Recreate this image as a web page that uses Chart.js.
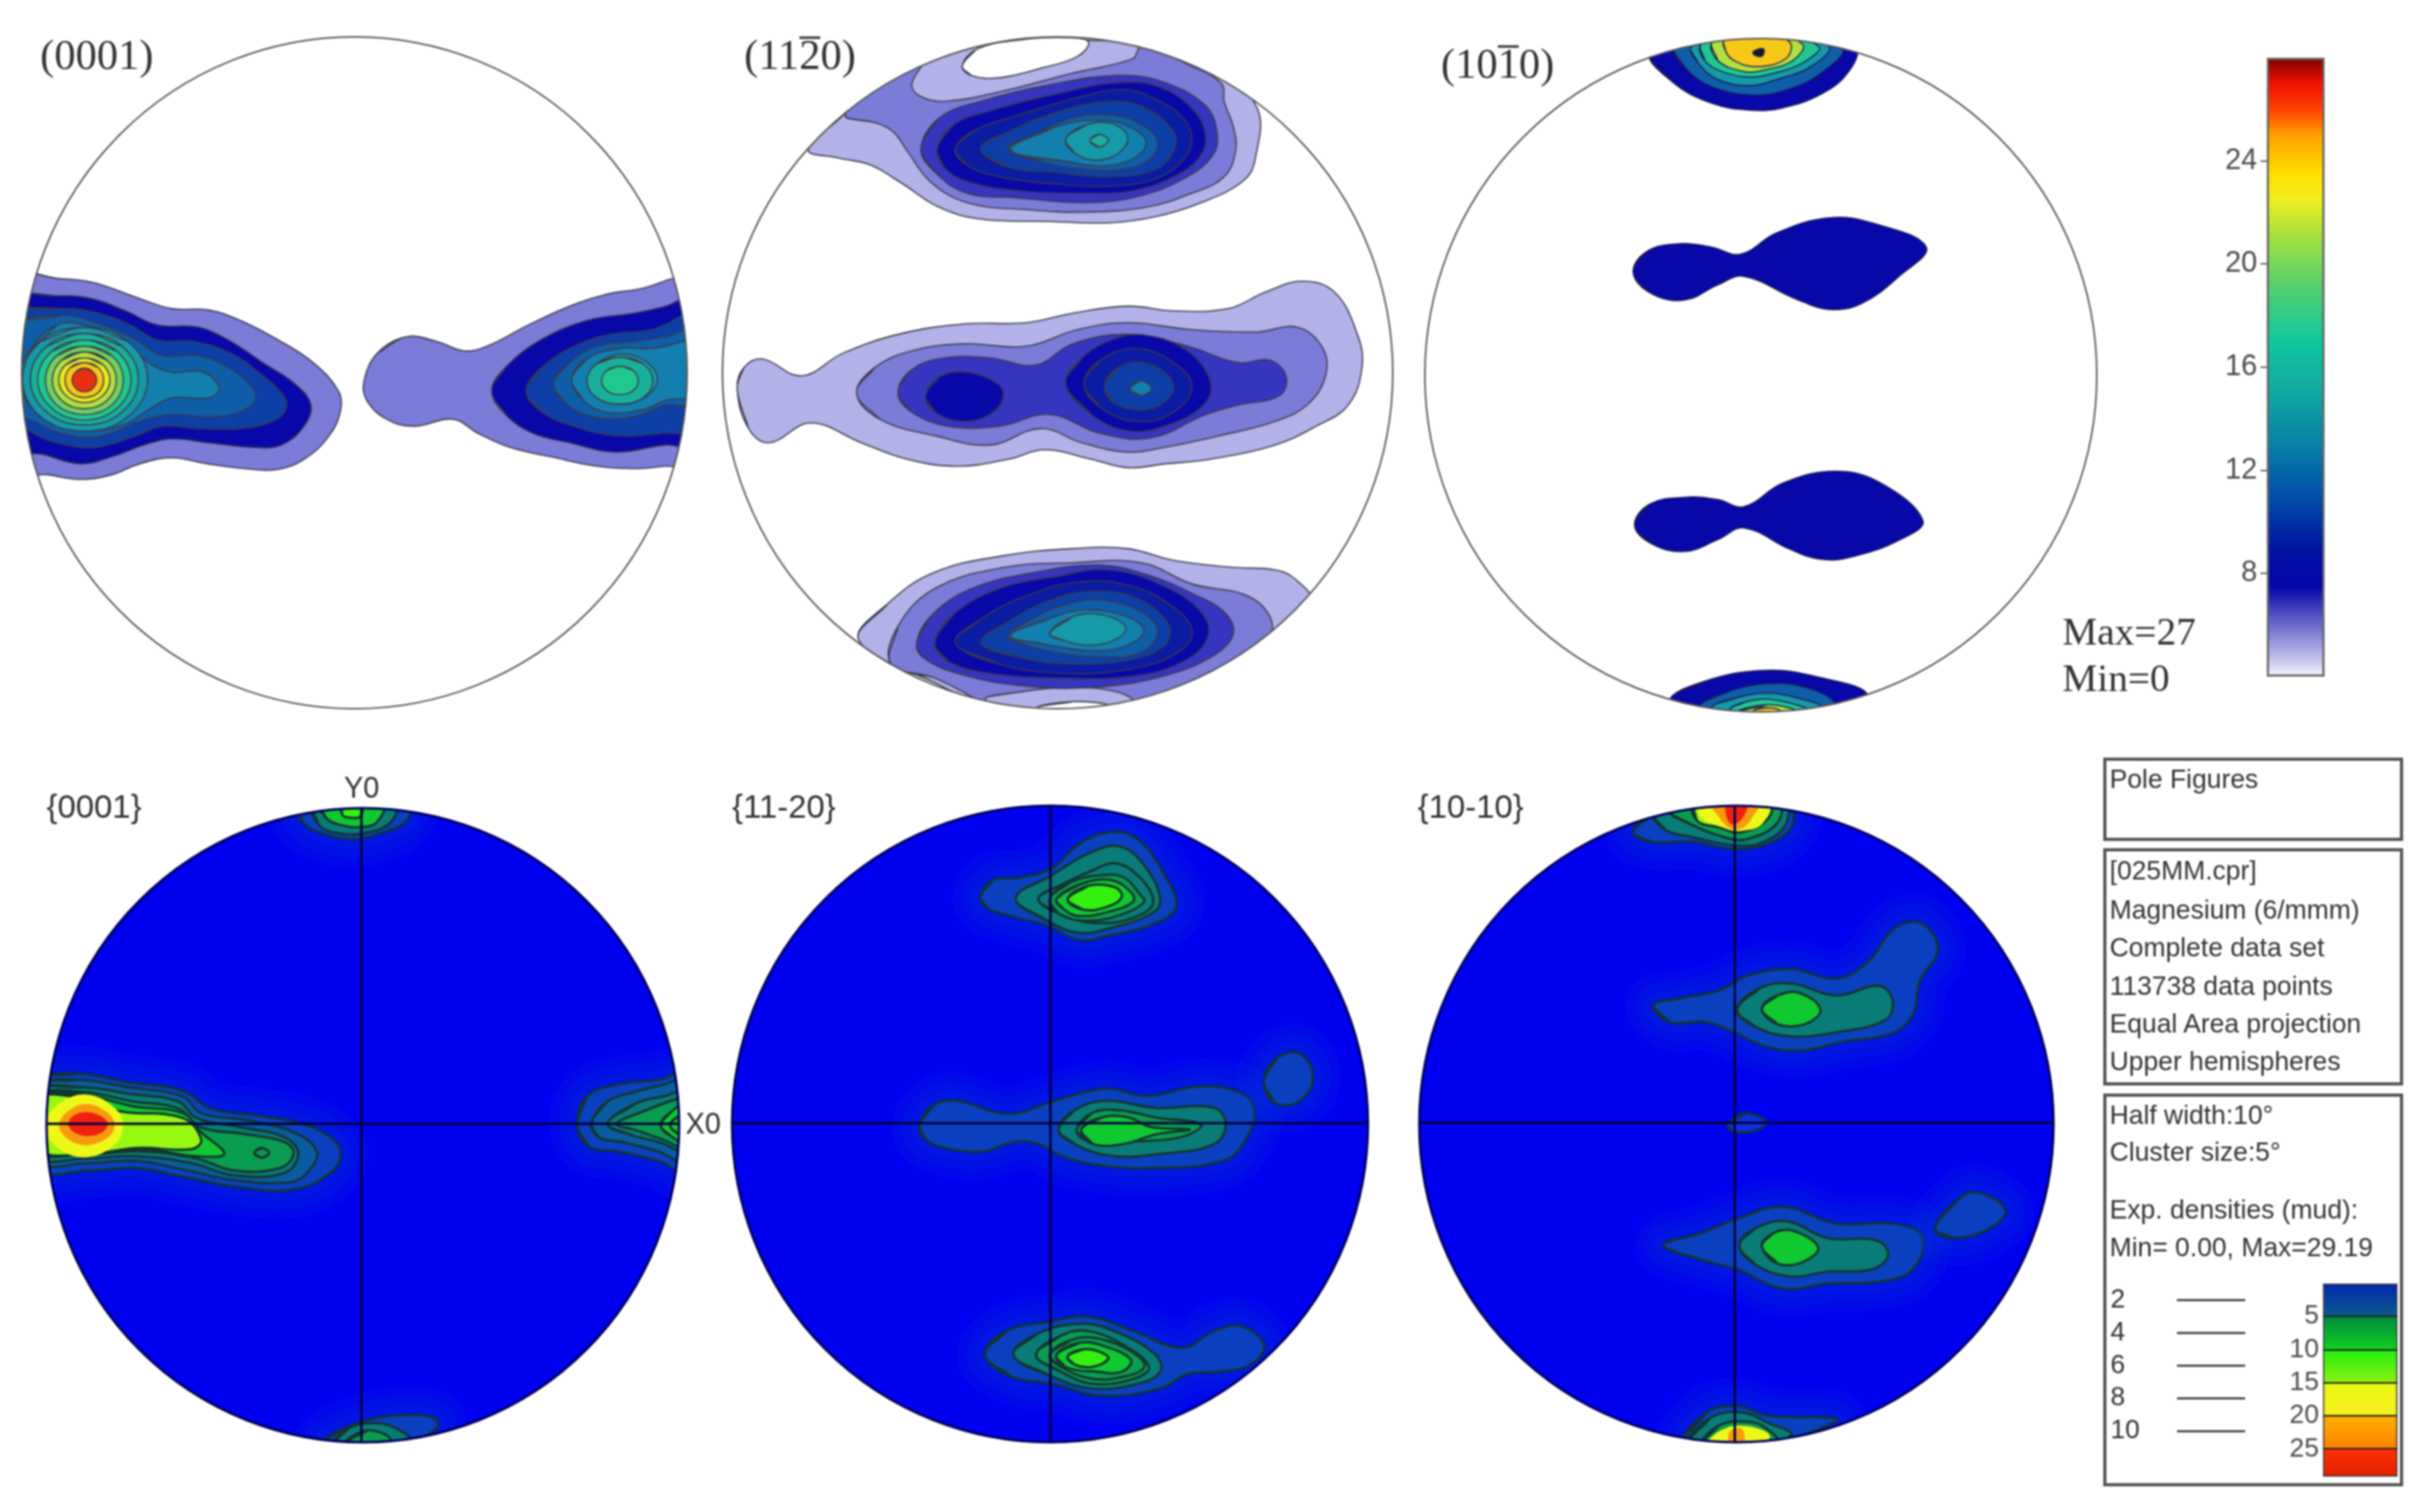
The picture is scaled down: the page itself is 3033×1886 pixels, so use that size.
<!DOCTYPE html>
<html>
<head>
<meta charset="utf-8">
<title>Pole figures</title>
<script src="https://cdn.jsdelivr.net/npm/chart.js@4"></script>
<style>
html, body { margin: 0; background: #fff; width: 3033px; height: 1886px; overflow: hidden; }
#page { position: absolute; left: 0; top: 0; width: 3033px; height: 1886px; filter: blur(1.1px); }
canvas { position: absolute; }
.t { position: absolute; white-space: pre; line-height: 1; transform: translateY(-50%); }
.serif { font-family: "Liberation Serif", serif; color: #333; }
.sans { font-family: "Liberation Sans", sans-serif; color: #333; font-size: 33px; }
.box { position: absolute; border: 4px solid #555; box-sizing: border-box; left: 2623px; width: 374px; }
.bar { display: inline-block; line-height: 0.72; border-top: 3px solid #333; }
</style>
</head>
<body>
<div id="page"></div>
<script>
// --- Data: contours, [x, y, x, y, ...] on each panel's read-off grid ---

const fig0001Levels = [2,4,6,7,8, 9,10,11,13,14,15,16,17, 2,4,6,7,8,9,10,11];
const fig0001Contours = [
  [20,590,130,592,200,600,290,630,370,655,450,658,520,680,600,720,680,770,735,830,740,870,715,925,660,975,600,997,530,995,450,985,370,972,300,985,240,1008,170,1018,100,1008,20,1000],
  [20,640,130,628,200,635,270,660,340,690,430,695,500,725,570,770,640,815,675,860,660,905,610,945,550,950,450,940,370,932,310,945,240,970,170,985,90,965,20,950],
  [20,672,130,655,210,665,280,690,340,722,420,725,500,750,560,790,615,840,620,870,590,895,520,910,430,910,350,905,280,930,200,950,120,940,60,915,20,880],
  [20,700,130,670,220,690,290,720,350,755,430,755,510,790,555,840,530,870,460,885,370,880,300,895,220,925,150,925,80,900,20,860],
  [50,760,120,690,200,695,270,725,320,770,370,790,440,790,475,825,450,845,370,845,320,870,270,900,190,915,110,900,60,860,40,810],
  [180,695,275,725,318,805,275,885,180,915,85,885,45,805,85,725],
  [180,708,262,735,298,805,262,875,180,902,98,875,62,805,98,735],
  [180,722,250,745,282,807,250,868,180,892,110,868,78,807,110,745],
  [180,735,240,755,265,807,240,860,180,880,120,860,95,807,120,755],
  [180,747,230,765,250,807,230,850,180,868,130,850,110,807,130,765],
  [180,760,220,774,236,807,220,840,180,855,140,840,124,807,140,774],
  [180,770,210,780,222,807,210,834,180,844,150,834,138,807,150,780],
  [180,782,198,789,207,807,198,825,180,832,162,825,153,807,162,789],
  [885,715,950,725,1010,745,1060,735,1150,690,1240,650,1320,625,1400,612,1470,590,1520,585,1520,985,1450,990,1380,995,1300,990,1200,970,1110,950,1040,920,985,890,900,905,840,890,800,855,790,815,820,750],
  [1070,830,1100,780,1180,720,1280,680,1380,665,1450,650,1520,630,1520,945,1450,945,1340,960,1240,940,1160,920,1100,880],
  [1145,830,1180,780,1250,735,1330,710,1420,700,1520,670,1520,905,1440,920,1340,925,1250,905,1180,875],
  [1205,815,1240,770,1300,735,1380,725,1450,715,1520,700,1520,855,1450,860,1380,885,1290,885,1230,855],
  [1245,805,1280,760,1350,740,1420,740,1520,730,1520,835,1450,850,1400,870,1320,875,1270,850],
  [1280,805,1310,765,1360,752,1410,770,1432,805,1410,840,1360,858,1305,845],
  [1350,758,1400,772,1422,808,1400,845,1350,858,1300,845,1278,808,1300,772],
  [1350,778,1378,786,1390,808,1378,830,1350,838,1322,830,1310,808,1322,786]
];

const fig1120Levels = [1,2,0,3,4,5,6,7,8,9,10, 1,2,3,4,4,5,6,8, 1,2,1,0,3,4,5,6,7,8,9];
const fig1120Contours = [
  [225,318,300,245,400,160,500,110,650,85,830,85,950,95,1100,150,1200,225,1197,340,1170,385,1080,430,980,460,880,473,750,470,600,465,510,440,430,390,360,350,290,335],
  [305,243,400,160,470,135,450,180,470,205,520,215,640,195,800,155,930,125,950,100,1060,140,1125,178,1130,215,1150,270,1155,320,1130,375,1060,410,960,440,830,450,700,445,570,430,490,385,440,320,410,280,370,260],
  [560,140,590,105,680,85,800,80,835,90,810,120,730,145,640,165,580,160],
  [470,315,510,250,600,215,750,180,900,160,1000,175,1090,225,1115,285,1105,330,1050,375,950,415,830,430,680,420,570,410,500,365],
  [505,315,540,265,620,235,760,200,900,175,990,185,1065,235,1090,290,1075,335,1020,375,930,405,820,410,680,405,570,385,520,355],
  [545,315,590,275,680,245,800,210,910,190,980,210,1040,250,1060,295,1040,340,980,380,880,395,760,390,640,375,570,350],
  [600,315,660,280,760,240,880,215,960,230,1020,280,1020,320,980,360,880,375,760,365,660,355],
  [660,315,720,285,800,250,890,245,950,265,985,300,965,340,900,360,820,358,740,345],
  [665,318,760,270,860,255,925,270,960,300,935,335,870,352,800,345],
  [785,295,830,265,885,262,920,290,900,325,850,340,805,325],
  [838,298,858,285,878,298,858,312],
  [70,825,85,780,125,762,210,798,300,750,420,710,560,688,700,685,800,665,920,650,1020,660,1140,655,1220,620,1300,597,1370,620,1420,710,1430,780,1400,860,1330,905,1240,945,1100,975,1000,985,920,993,840,975,740,955,660,975,550,990,440,975,340,940,230,898,140,940,95,910],
  [330,835,370,780,450,745,560,730,700,735,810,700,920,685,1060,700,1200,705,1290,695,1345,740,1350,800,1310,860,1240,895,1120,925,1000,950,920,960,820,940,730,910,620,945,500,925,380,890],
  [420,835,450,785,520,760,620,760,720,775,800,730,920,710,1050,735,1160,770,1230,765,1265,800,1250,840,1160,860,1090,880,970,930,860,920,750,880,640,905,530,905,450,875],
  [480,840,510,800,565,790,630,810,650,840,620,880,560,895,500,875],
  [785,815,820,760,890,720,960,712,1050,745,1100,810,1085,860,1000,905,920,915,840,880],
  [825,815,860,765,940,740,1020,770,1060,820,1020,875,940,895,860,865],
  [870,820,900,780,950,770,1000,790,1020,825,990,860,945,870,890,855],
  [925,825,948,808,972,825,948,840],
  [335,1360,400,1280,500,1215,650,1180,800,1165,920,1165,1020,1190,1150,1205,1240,1210,1285,1230,1320,1280,1230,1350,1100,1430,900,1530,700,1530,500,1450],
  [405,1410,420,1330,500,1250,650,1205,800,1195,950,1195,1060,1240,1190,1270,1235,1335,1180,1400,1050,1460,880,1530,700,1530,500,1440],
  [610,1485,680,1470,800,1460,900,1470,930,1490,800,1525,680,1515],
  [720,1505,800,1490,880,1500,800,1525],
  [460,1370,490,1310,580,1250,720,1215,860,1200,960,1220,1060,1260,1130,1300,1150,1345,1110,1390,1000,1435,840,1460,680,1455,550,1430,480,1400],
  [500,1365,540,1305,640,1250,760,1225,880,1210,1000,1245,1080,1300,1095,1350,1050,1400,940,1435,780,1440,620,1430,530,1405],
  [545,1365,600,1315,700,1265,820,1235,930,1245,1020,1290,1060,1340,1030,1385,930,1420,780,1430,640,1410],
  [600,1365,660,1320,750,1275,850,1255,950,1275,1010,1330,1000,1370,930,1400,800,1410,680,1395],
  [660,1350,720,1310,800,1280,870,1275,950,1300,985,1340,950,1385,860,1395,760,1385,700,1370],
  [665,1350,760,1310,830,1295,920,1310,955,1340,920,1370,850,1382,750,1370],
  [750,1345,800,1310,860,1305,915,1330,900,1355,840,1370,780,1360]
];

const fig1010Levels = [4,7,9,11,14,16,18, 4,4, 4,7,9,11,14,16];
const fig1010Contours = [
  [368,110,530,60,680,100,670,150,630,195,570,225,520,230,460,215,400,170],
  [405,100,530,60,660,100,630,150,580,185,525,198,460,180,420,140],
  [430,95,530,60,640,95,610,140,560,165,520,178,470,165,440,130],
  [445,90,530,60,625,95,600,130,555,152,520,160,480,150,450,125],
  [462,85,530,60,600,90,585,125,540,145,510,148,470,125],
  [480,80,530,65,580,85,575,120,530,138,495,125,482,105],
  [525,105,540,100,538,115,525,112],
  [340,575,360,530,410,513,460,520,505,535,560,490,640,458,710,470,790,520,750,580,690,640,640,652,590,630,510,582,470,600,420,632,370,620],
  [342,1110,365,1065,420,1050,470,1055,510,1070,570,1020,650,995,720,1020,785,1100,750,1140,680,1175,630,1182,580,1160,510,1115,470,1140,420,1165,370,1150],
  [395,1482,450,1440,540,1417,620,1430,700,1470,640,1530,430,1530],
  [440,1495,480,1465,545,1445,610,1455,650,1490,620,1530,460,1530],
  [460,1497,500,1475,545,1465,590,1475,630,1497,600,1530,480,1530],
  [490,1500,510,1485,545,1478,585,1488,605,1500,545,1530],
  [495,1510,545,1490,590,1505,545,1530],
  [525,1503,545,1496,565,1503,545,1520]
];

const pf0001Levels = [1,2,3,4,5,7,8,9,10,4, 1,2,3,4,5,5, 1,3,5,6, 1,3,4];
const pf0001Contours = [
  [90,670,170,652,280,670,400,688,460,725,560,740,650,755,720,785,742,820,720,860,640,895,520,890,410,870,300,850,200,855,90,850],
  [90,680,170,665,280,680,400,700,440,735,540,750,640,775,690,815,670,860,630,880,510,875,410,855,300,835,190,840,90,835],
  [90,690,180,680,290,695,390,710,430,745,530,765,620,785,650,820,620,860,510,865,420,840,300,825,190,830,90,825],
  [90,700,180,690,290,710,390,725,440,765,530,778,620,795,640,820,610,850,510,855,430,830,310,815,180,822,90,815],
  [90,700,180,695,290,720,400,735,440,775,490,820,430,825,310,810,180,820,90,812],
  [90,705,180,700,260,730,400,745,440,790,420,810,300,808,180,822,90,810],
  [190,698,250,725,268,760,250,800,190,825,130,805,105,760,130,720],
  [190,718,235,735,250,760,235,785,190,800,150,785,135,760,150,735],
  [190,735,220,742,235,758,220,775,190,780,165,772,155,758,165,742],
  [555,818,570,808,587,818,570,828],
  [1255,760,1275,700,1340,675,1430,665,1500,650,1500,860,1430,835,1340,815,1280,805],
  [1285,755,1320,710,1380,690,1440,675,1500,665,1500,840,1430,815,1350,795,1300,785],
  [1320,757,1380,715,1440,700,1500,690,1500,815,1430,795,1370,780],
  [1340,757,1400,730,1470,705,1500,700,1500,810,1440,790,1380,770],
  [1435,760,1460,730,1500,710,1500,800,1460,785],
  [1455,760,1475,740,1500,730,1500,790,1475,780],
  [650,85,890,85,880,125,820,150,770,160,710,150,660,125],
  [680,80,860,80,850,125,790,148,740,148,695,130],
  [695,80,835,80,820,125,780,135,740,130,710,115],
  [745,80,785,80,785,112,760,115,745,108],
  [700,1430,780,1385,880,1368,945,1375,950,1395,880,1435,800,1445],
  [730,1430,760,1395,820,1385,860,1395,890,1420,800,1445],
  [750,1430,800,1400,850,1420,800,1445]
];

const pf1120Levels = [1,3,3,4,5,6, 1,3,4,5, 1, 1,3,4,4,5,6];
const pf1120Contours = [
  [612,285,640,250,700,245,770,225,830,175,900,150,960,165,1020,240,1045,305,1000,340,900,365,830,375,760,345,680,325,630,310],
  [690,288,770,240,850,195,920,180,975,220,1010,290,990,320,900,350,830,360,760,335],
  [740,290,790,260,860,230,910,215,960,240,995,295,960,325,880,340,800,325],
  [765,290,810,255,880,240,930,245,965,280,975,295,930,320,850,335,785,320],
  [780,290,830,260,900,250,945,275,950,295,900,315,830,325,795,310],
  [805,290,850,262,910,265,925,285,895,305,840,312],
  [478,760,510,718,560,710,650,735,700,735,770,712,890,685,980,700,1100,680,1190,695,1218,730,1200,790,1150,835,1000,850,880,845,790,825,740,800,690,795,620,815,540,810,490,790],
  [785,770,820,730,890,710,1000,725,1130,725,1155,760,1130,800,1020,820,900,825,820,800],
  [825,770,860,735,920,730,1000,745,1100,760,1060,785,960,795,880,800,840,790],
  [835,770,880,745,940,745,990,765,1075,770,1000,780,930,800,860,800],
  [1240,670,1270,620,1320,612,1348,660,1320,710,1265,715],
  [622,1240,670,1190,770,1170,850,1160,950,1190,1060,1225,1130,1190,1190,1180,1240,1220,1210,1260,1140,1275,1070,1280,1010,1310,880,1325,770,1300,680,1285],
  [685,1240,740,1195,840,1175,920,1195,1000,1240,1010,1275,960,1300,860,1310,770,1285],
  [735,1240,790,1200,850,1190,930,1220,985,1265,950,1290,860,1300,790,1275],
  [765,1240,810,1210,870,1205,950,1235,975,1265,930,1285,860,1290,790,1265],
  [780,1240,830,1215,880,1220,945,1250,925,1275,870,1275,800,1265],
  [805,1243,840,1228,880,1235,895,1248,860,1265,820,1260]
];

const pf1010Levels = [1,3,4,7,8,9,10, 1,3,5, 0, 1,3,5, 1, 1,3,4,8,9];
const pf1010Contours = [
  [530,150,570,115,700,80,860,80,885,125,850,165,760,185,660,170,570,170],
  [575,110,700,80,860,80,870,130,820,170,760,178,660,160,600,145],
  [610,105,700,80,850,80,850,130,780,165,730,160,660,135],
  [665,80,830,80,830,120,770,150,720,140,670,125],
  [680,80,825,80,815,130,765,145,720,135,680,115],
  [700,80,810,80,790,120,770,140,745,140,720,115],
  [740,80,780,80,770,120,745,130],
  [575,510,640,495,720,480,780,450,880,435,980,455,1050,420,1110,350,1170,340,1205,395,1165,460,1150,530,1100,570,1000,585,900,605,820,595,750,565,690,545,610,545],
  [760,520,810,475,880,465,980,490,1075,470,1105,500,1090,540,990,565,880,575,800,555],
  [815,518,850,490,900,485,945,520,910,550,850,550],
  [740,757,780,735,825,755,785,775,745,770],
  [597,1010,680,985,760,955,860,930,980,965,1100,965,1170,990,1150,1060,1080,1085,960,1090,860,1100,760,1060,680,1040],
  [765,1010,800,975,870,960,960,995,1070,1000,1095,1030,1060,1060,960,1065,880,1075,800,1050],
  [815,1012,840,985,885,980,940,1015,905,1045,850,1048],
  [1200,975,1250,915,1290,900,1355,935,1320,975,1240,995],
  [640,1430,690,1360,760,1345,830,1365,980,1372,920,1400,800,1445],
  [650,1430,700,1370,770,1358,830,1380,880,1405,770,1445],
  [680,1430,720,1385,790,1378,830,1395,850,1420,770,1445],
  [695,1430,730,1395,790,1390,830,1410,770,1445],
  [745,1400,770,1395,770,1435,750,1435]
];

const pf0001Cross = [787, 757];
const pf1120Cross = [767, 757];
const pf1010Cross = [755, 755];

const cbarTicks = [8, 12, 16, 20, 24];
const cbarRange = [4, 28];
const cbarStops = [4, 4.6, 5.5, 6.5, 7.5, 9, 11, 13, 15, 17, 19, 21, 22.5, 23.5, 25, 26, 27, 28];
const cbarColors = ['#f8f8ff','#c8c8ec','#8c8cd8','#4a4ac0','#0404a8','#0014a0','#0050a8','#0a80a8','#10a8a0','#10c8a0','#50d070','#a0e040','#f0f020','#ffe000','#ffa000','#ff4000','#f01000','#7a0000'];

const legendTicks = [5, 10, 15, 20, 25];
const legendRange = [0, 29.19];
const legendStops = [0, 5, 5, 10, 10, 15, 15, 20, 20, 25, 25, 29.19];
const legendColors = ['#0028b0','#0a5a88','#008a40','#10d020','#20f010','#90f010','#e8f810','#f8f020','#ffb000','#ff8000','#ff3000','#e02000'];
const contourLevels = [2, 4, 6, 8, 10];

// --- Styles and layout ---
const TOP_COLORS = ['#ffffff','#b2b2e8','#7b7bd8','#3535c0','#0808a8','#0a1ca2','#0c3ea6','#0f5ea8','#127fae','#169aa8','#18b09a','#20c890','#40cc78','#70d060','#b0e040','#e8e820','#f8c818','#e83010','#1a1a1a'];
const POLE_COLORS = ['#0a30e0','#0a40c0','#0a5ca0','#0a7c78','#0a9c50','#10c830','#34f010','#98f810','#eef818','#f89a10','#f02010'];
const GLOW_WIDTHS = [70, 46, 24];
const PAD = 5;
const page = document.getElementById('page');

Chart.defaults.animation = false;
Chart.defaults.responsive = false;
Chart.defaults.plugins.legend.display = false;
Chart.defaults.plugins.tooltip.enabled = false;

// Wraps a contour round its start so the spline closes smoothly
function toPoints(flat) {
    const pts = [];
    for (let i = 0; i < flat.length; i += 2) pts.push({ x: flat[i], y: flat[i + 1] });
    return [pts[pts.length - 1], ...pts, pts[0], pts[1]];
}

function addCanvas(left, top, width, height) {
    const c = document.createElement('canvas');
    c.width = width;
    c.height = height;
    c.style.left = left + 'px';
    c.style.top = top + 'px';
    page.appendChild(c);
    return c.getContext('2d');
}

function addText(text, left, top, cls, size) {
    const el = document.createElement('div');
    el.className = 't ' + cls;
    el.style.left = left + 'px';
    el.style.top = top + 'px';
    if (size) el.style.fontSize = size + 'px';
    el.innerHTML = text;
    page.appendChild(el);
}

// Clips the contours to the projection circle and draws its rim
const discPlugin = {
    id: 'disc',
    beforeDatasetsDraw(chart, args, opts) {
        const { ctx, chartArea: a } = chart;
        ctx.save();
        ctx.beginPath();
        ctx.ellipse((a.left + a.right) / 2, (a.top + a.bottom) / 2, a.width / 2, a.height / 2, 0, 0, Math.PI * 2);
        if (opts.fill) {
            ctx.fillStyle = opts.fill;
            ctx.fill();
        }
        ctx.clip();
    },
    afterDatasetsDraw(chart, args, opts) {
        const { ctx, chartArea: a } = chart;
        ctx.restore();
        ctx.beginPath();
        ctx.ellipse((a.left + a.right) / 2, (a.top + a.bottom) / 2, a.width / 2, a.height / 2, 0, 0, Math.PI * 2);
        ctx.strokeStyle = opts.rim;
        ctx.lineWidth = opts.rimWidth;
        ctx.stroke();
    }
};

function panel(box, grid, contours, levels, colors, cfg) {
    const datasets = [];
    contours.forEach((flat, i) => {
        const color = colors[levels[i]];
        if (cfg.glow && levels[i] === 1) {
            GLOW_WIDTHS.forEach(w => {
                datasets.push({
                    data: toPoints(flat), borderColor: 'rgba(10,70,200,0.13)', borderWidth: w,
                    fill: false, tension: 0.4, pointRadius: 0
                });
            });
        }
        const plain = cfg.plainFrom && levels[i] >= cfg.plainFrom;
        datasets.push({
            data: toPoints(flat), borderColor: plain ? color : cfg.line, borderWidth: cfg.lineWidth,
            backgroundColor: color, fill: 'shape', tension: 0.4, pointRadius: 0
        });
    });
    if (cfg.cross) {
        const [cx, cy] = cfg.cross;
        const crossLine = pts => ({ data: pts, borderColor: '#00003c', borderWidth: 3, fill: false, tension: 0, pointRadius: 0 });
        datasets.push(crossLine([{ x: grid[0], y: cy }, { x: grid[1], y: cy }]));
        datasets.push(crossLine([{ x: cx, y: grid[2] }, { x: cx, y: grid[3] }]));
    }
    // first dataset is painted last, so the outermost contour goes to the end
    datasets.reverse();
    const ctx = addCanvas(box[0] - PAD, box[1] - PAD, box[2] + 2 * PAD, box[3] + 2 * PAD);
    new Chart(ctx, {
        type: 'scatter',
        data: { datasets },
        plugins: [discPlugin],
        options: {
            showLine: true,
            layout: { padding: PAD },
            elements: { line: { capBezierPoints: false } },
            scales: {
                x: { type: 'linear', display: false, min: grid[0], max: grid[1] },
                y: { type: 'linear', display: false, min: grid[2], max: grid[3], reverse: true }
            },
            plugins: { disc: { rim: cfg.rim, rimWidth: cfg.rimWidth, fill: cfg.disc } }
        }
    });
}

function gradientFill(stops, colors, lo, hi) {
    return function (c) {
        const { ctx, chartArea, scales } = c.chart;
        if (!chartArea) return colors[0];
        const g = ctx.createLinearGradient(0, scales.y.getPixelForValue(lo), 0, scales.y.getPixelForValue(hi));
        stops.forEach((s, i) => g.addColorStop((s - lo) / (hi - lo), colors[i]));
        return g;
    };
}

function colorBar(box, axisWidth, range, ticks, stops, colors, font, cfg) {
    const ctx = addCanvas(box[0] - axisWidth, box[1], box[2] + axisWidth, box[3]);
    new Chart(ctx, {
        type: 'bar',
        data: {
            labels: [''],
            datasets: [{
                data: [range],
                backgroundColor: gradientFill(stops, colors, range[0], range[1]),
                borderColor: cfg.border, borderWidth: cfg.borderWidth, borderSkipped: false,
                barPercentage: 1, categoryPercentage: 1
            }]
        },
        options: {
            scales: {
                x: { display: false },
                y: {
                    min: range[0], max: range[1], reverse: !!cfg.reverse,
                    afterFit: s => { s.width = axisWidth; s.paddingTop = 0; s.paddingBottom = 0; },
                    afterBuildTicks: s => { s.ticks = ticks.map(v => ({ value: v })); },
                    border: { display: false },
                    grid: {
                        z: cfg.gridOver ? 1 : 0,
                        drawOnChartArea: !!cfg.gridOver,
                        color: '#222', lineWidth: 2,
                        tickColor: cfg.tickColor, tickLength: cfg.tickLength
                    },
                    ticks: { color: '#4c4c4c', font, padding: cfg.padding, autoSkip: false }
                }
            }
        }
    });
}

function contourLegend() {
    const ctx = addCanvas(2632, 1581, 168, 245);
    new Chart(ctx, {
        type: 'scatter',
        data: {
            datasets: contourLevels.map(v => ({
                data: [{ x: 0, y: v }, { x: 1, y: v }],
                borderColor: '#333', borderWidth: 2.5, pointRadius: 0, fill: false
            }))
        },
        options: {
            showLine: true,
            scales: {
                x: { type: 'linear', display: false, min: 0, max: 1 },
                y: {
                    min: 0, max: 12, reverse: true,
                    afterFit: s => { s.width = 83; s.paddingTop = 0; s.paddingBottom = 0; },
                    afterBuildTicks: s => { s.ticks = contourLevels.map(v => ({ value: v })); },
                    border: { display: false },
                    grid: { display: false },
                    ticks: { color: '#333', crossAlign: 'far', padding: 0, autoSkip: false, font: { family: 'Liberation Sans', size: 33 } }
                }
            }
        }
    });
}

// --- Top row ---
const topStyle = { line: '#3a3a4a', lineWidth: 1.6, rim: '#555', rimWidth: 2 };
panel([27, 46, 830, 838], [43, 1497, 78, 1505], fig0001Contours, fig0001Levels, TOP_COLORS, topStyle);
panel([901, 46, 836, 838], [38, 1497, 78, 1505], fig1120Contours, fig1120Levels, TOP_COLORS, topStyle);
panel([1777, 48, 838, 840], [20, 1052, 78, 1505], fig1010Contours, fig1010Levels, TOP_COLORS, { line: '#1a1a50', lineWidth: 1.5, rim: '#555', rimWidth: 2 });

addText('(0001)', 50, 68, 'serif', 53);
addText('(11<span class="bar">2</span>0)', 928, 68, 'serif', 53);
addText('(10<span class="bar">1</span>0)', 1797, 79, 'serif', 53);
addText('Max=27', 2572, 787, 'serif', 49);
addText('Min=0', 2572, 845, 'serif', 49);

colorBar([2827, 72, 72, 772], 70, cbarRange, cbarTicks, cbarStops, cbarColors,
    { family: 'Liberation Sans', size: 36 },
    { border: '#666', borderWidth: 3, tickColor: '#666', tickLength: 8, padding: 4 });

// --- Bottom row ---
const poleStyle = { line: '#12352e', lineWidth: 3, rim: '#00005a', rimWidth: 3, disc: '#0000f0', glow: true, plainFrom: 8 };
panel([58, 1008, 789, 791], [105, 1475, 95, 1425], pf0001Contours, pf0001Levels, POLE_COLORS, { ...poleStyle, cross: pf0001Cross });
panel([913, 1005, 793, 794], [62, 1470, 95, 1422], pf1120Contours, pf1120Levels, POLE_COLORS, { ...poleStyle, cross: pf1120Cross });
panel([1770, 1005, 791, 794], [55, 1462, 95, 1420], pf1010Contours, pf1010Levels, POLE_COLORS, { ...poleStyle, cross: pf1010Cross });

addText('{0001}', 58, 1006, 'sans', 41);
addText('{11-20}', 913, 1006, 'sans', 41);
addText('{10-10}', 1768, 1006, 'sans', 41);
addText('Y0', 429, 983, 'sans', 36);
addText('X0', 855, 1402, 'sans', 36);

// --- Info boxes ---
[[945, 104], [1058, 296], [1364, 490]].forEach(b => {
    const el = document.createElement('div');
    el.className = 'box';
    el.style.top = b[0] + 'px';
    el.style.height = b[1] + 'px';
    page.appendChild(el);
});
const infoLines = [
    ['Pole Figures', 971], ['[025MM.cpr]', 1085], ['Magnesium (6/mmm)', 1134], ['Complete data set', 1181],
    ['113738 data points', 1229], ['Equal Area projection', 1276], ['Upper hemispheres', 1323],
    ['Half width:10°', 1390], ['Cluster size:5°', 1436], ['Exp. densities (mud):', 1508], ['Min= 0.00, Max=29.19', 1555]
];
infoLines.forEach(l => addText(l[0], 2631, l[1], 'sans'));

contourLegend();
colorBar([2897, 1601, 93, 241], 60, legendRange, legendTicks, legendStops, legendColors,
    { family: 'Liberation Sans', size: 33 },
    { border: '#444', borderWidth: 2, gridOver: true, reverse: true, tickColor: 'rgba(0,0,0,0)', tickLength: 2, padding: 3 });
</script>
</body>
</html>
